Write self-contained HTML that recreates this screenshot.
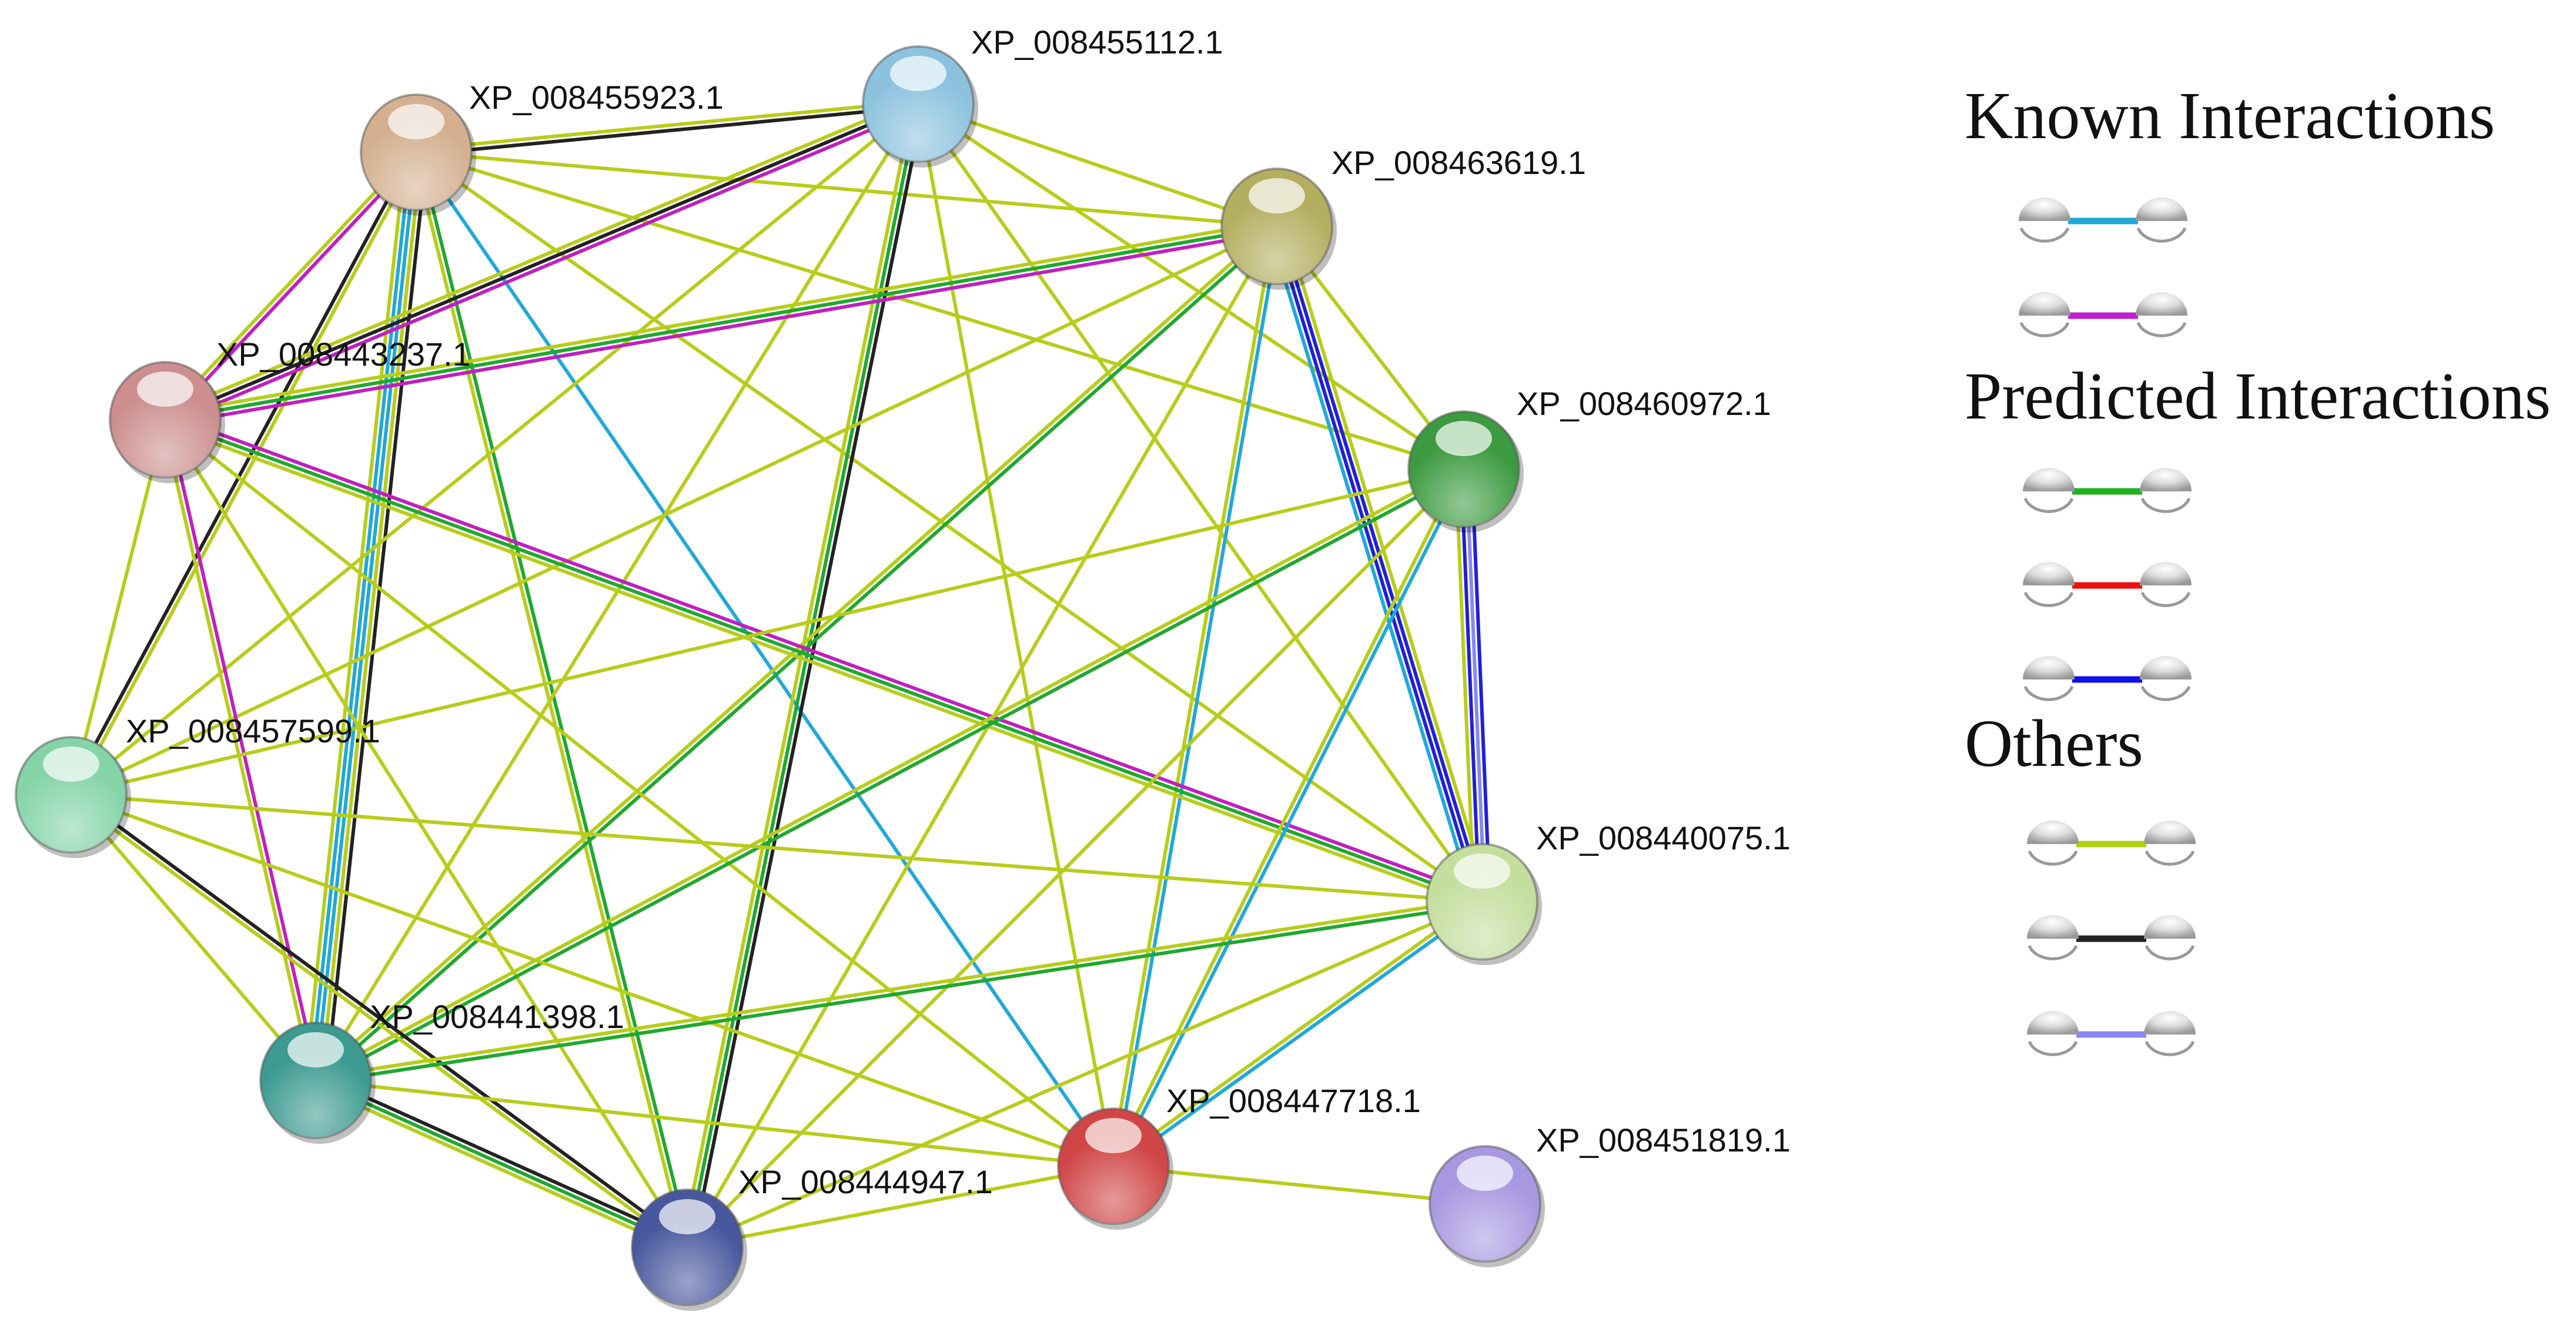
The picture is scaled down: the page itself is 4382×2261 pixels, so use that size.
<!DOCTYPE html>
<html><head><meta charset="utf-8">
<style>
html,body{margin:0;padding:0;background:#fff;}
svg{display:block;}
.lbl{font-family:"Liberation Sans",sans-serif;font-size:56px;fill:#111;dominant-baseline:middle;}
.hd{font-family:"Liberation Serif",serif;font-size:114px;fill:#111;}
</style></head>
<body>
<svg id="s" width="4382" height="2261" viewBox="0 0 4382 2261" xmlns="http://www.w3.org/2000/svg">
<defs>
<radialGradient id="gl" cx="0.5" cy="0.3" r="0.7">
<stop offset="0" stop-color="#fff"/><stop offset="0.5" stop-color="#ddd"/><stop offset="1" stop-color="#999"/>
</radialGradient>
<radialGradient id="shine" cx="0.5" cy="0.8" r="0.55">
<stop offset="0" stop-color="#fff" stop-opacity="0.45"/><stop offset="1" stop-color="#fff" stop-opacity="0"/>
</radialGradient>
</defs>
<g id="edges"></g>
<g id="nodes"></g>
<g id="labels"></g>
<g id="legend">
<text class="hd" x="3342" y="235">Known Interactions</text>
<text class="hd" x="3342" y="712">Predicted Interactions</text>
<text class="hd" x="3342" y="1303">Others</text>
</g>
</svg>
<script>
var NS="http://www.w3.org/2000/svg";
function el(t,a,p){var e=document.createElementNS(NS,t);for(var k in a)e.setAttribute(k,a[k]);p.appendChild(e);return e;}
var N={
A:[708,259,"#d4b090","XP_008455923.1",798,170],
B:[1562,177,"#8cc2de","XP_008455112.1",1652,76],
C:[2172,385,"#b4ae60","XP_008463619.1",2265,281],
D:[281,714,"#cc8e8e","XP_008443237.1",368,607],
E:[2490,798,"#3c9a40","XP_008460972.1",2580,691],
F:[121,1352,"#84d4a8","XP_008457599.1",214,1248],
G:[2521,1534,"#c4de9e","XP_008440075.1",2613,1430],
H:[537,1838,"#3c9a90","XP_008441398.1",629,1734],
I:[1894,1984,"#d04646","XP_008447718.1",1984,1877],
J:[1169,2122,"#48589e","XP_008444947.1",1256,2015],
K:[2526,2048,"#a898e0","XP_008451819.1",2613,1944]
};
var Y="#b8cc1c",K="#222",Cy="#20a8d8",M="#c020c0",G="#20a830",B="#2020d8",L="#8888f0";
var E=[
["AB",[Y,K]],["AC",[Y]],["AD",[M,Y]],["AF",[Y,K]],["AH",[K,Y,Cy,Cy,Y]],["AJ",[G,Y]],["AI",[Cy]],["AE",[Y]],["AG",[Y]],
["BD",[M,K,Y]],["BF",[Y]],["BH",[Y]],["BJ",[K,G,Y]],["BI",[Y]],["BG",[Y]],["BE",[Y]],["BC",[Y]],
["CD",[M,G,Y]],["CE",[Y]],["CG",[Y,B,B,Cy]],["CI",[Cy,Y]],["CH",[G,Y]],["CF",[Y]],["CJ",[Y]],
["DG",[M,G,Y]],["DH",[M,Y]],["DF",[Y]],["DJ",[Y]],["DI",[Y]],
["EG",[B,L,B,Y]],["EH",[G,Y]],["EI",[Cy,Y]],["EF",[Y]],["EJ",[Y]],
["FH",[Y]],["FJ",[K,Y]],["FG",[Y]],["FI",[Y]],
["GH",[G,Y]],["GI",[Cy,Y]],["GJ",[Y]],
["HJ",[K,G,Y]],["HI",[Y]],["IJ",[Y]],["IK",[Y]]
];
var eg=document.getElementById("edges");
E.forEach(function(e){var a=N[e[0][0]],b=N[e[0][1]],cs=e[1];
var dx=b[0]-a[0],dy=b[1]-a[1],l=Math.hypot(dx,dy),nx=-dy/l,ny=dx/l,sp=9;
cs.forEach(function(c,i){var o=(i-(cs.length-1)/2)*sp;
el("line",{x1:a[0]+nx*o,y1:a[1]+ny*o,x2:b[0]+nx*o,y2:b[1]+ny*o,stroke:c,"stroke-width":6},eg);});});
var ng=document.getElementById("nodes"),lg=document.getElementById("labels");
Object.keys(N).forEach(function(k){var n=N[k];
el("ellipse",{cx:n[0]+6,cy:n[1]+8,rx:96,ry:100,fill:"#000",opacity:0.25},ng);
el("ellipse",{cx:n[0],cy:n[1],rx:94,ry:98,fill:n[2],stroke:"#555","stroke-opacity":0.5,"stroke-width":4},ng);
el("ellipse",{cx:n[0],cy:n[1],rx:94,ry:98,fill:"url(#shine)"},ng);
el("ellipse",{cx:n[0],cy:n[1]-52,rx:48,ry:30,fill:"#fff",opacity:0.7},ng);
var t=el("text",{x:n[4],y:n[5],"class":"lbl"},lg);t.textContent=n[3];});
var leg=document.getElementById("legend");
[[376,3478,3677,Cy],[537,3478,3677,"#c020d0"],[836,3485,3684,"#20b020"],[996,3485,3684,"#f01010"],[1156,3485,3684,"#1010e8"],[1436,3492,3691,"#b0d010"],[1597,3492,3691,"#222"],[1760,3492,3691,"#8888f0"]].forEach(function(r){
el("line",{x1:r[1]+40,y1:r[0],x2:r[2]-40,y2:r[0],stroke:r[3],"stroke-width":11},leg);
[r[1],r[2]].forEach(function(x){
el("path",{d:"M"+(x-44)+","+r[0]+" A44,40 0 0 1 "+(x+44)+","+r[0]+" Z",fill:"url(#gl)"},leg);
el("path",{d:"M"+(x-40)+","+(r[0]+12)+" A42,32 0 0 0 "+(x+40)+","+(r[0]+12),fill:"none",stroke:"#999","stroke-width":5},leg);});});
</script>
</body></html>
